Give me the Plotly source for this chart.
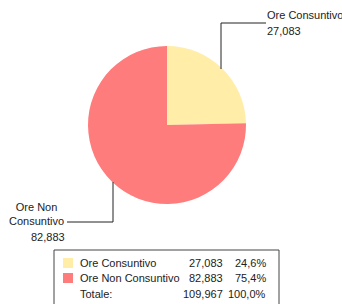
import plotly.graph_objects as go

W, H = 342, 304
labels = ["Ore Consuntivo", "Ore Non Consuntivo"]
values = [27.0834, 82.8834]
colors = ["#FFEDA8", "#FF7C7C"]
title_text = "Analisi a % di incidenza ore Consuntivo - Non Consuntivo"


def px(x):
    return x / W


def py(y):
    return 1 - y / H


def fmt(v, d):
    s = f"{v:,.{d}f}"
    return s.replace(",", "X").replace(".", ",").replace("X", ".")


total = sum(values)
FONT = "Liberation Sans, Arial, sans-serif"
TXT = "#222222"
FS = 11

cx, cy, r = 167, 125, 79
fig = go.Figure(go.Pie(
    labels=labels, values=values, sort=False, direction="clockwise", rotation=0,
    marker=dict(colors=colors, line=dict(width=0)), textinfo="none",
    hoverinfo="skip", showlegend=False,
    domain=dict(x=[px(cx - r), px(cx + r)], y=[py(cy + r), py(cy - r)]),
))

shapes = []
ann = []
# title (clipped at top)
ann.append(dict(x=px(171), y=py(5), xref="paper", yref="paper", xanchor="center",
                yanchor="bottom", showarrow=False, text="<b>" + title_text + "</b>",
                font=dict(family=FONT, size=13, color="#666666")))
# leader lines
line = dict(color="#222222", width=1)
shapes.append(dict(type="path", xref="paper", yref="paper",
                   path=f"M {px(221)},{py(69)} L {px(221)},{py(23)} L {px(266)},{py(23)}", line=line))
shapes.append(dict(type="path", xref="paper", yref="paper",
                   path=f"M {px(113)},{py(182)} L {px(113)},{py(222)} L {px(67)},{py(222)}", line=line))
# labels
ann.append(dict(x=px(265), y=py(15), xref="paper", yref="paper", xanchor="left", yanchor="middle",
                showarrow=False, text=labels[0], font=dict(family=FONT, size=FS, color=TXT)))
ann.append(dict(x=px(265), y=py(31), xref="paper", yref="paper", xanchor="left", yanchor="middle",
                showarrow=False, text=fmt(values[0], 3), font=dict(family=FONT, size=FS, color=TXT)))
ann.append(dict(x=px(66), y=py(214), xref="paper", yref="paper", xanchor="right", yanchor="middle",
                showarrow=False, text="Ore Non<br>Consuntivo", align="center",
                font=dict(family=FONT, size=FS, color=TXT)))
ann.append(dict(x=px(67), y=py(237), xref="paper", yref="paper", xanchor="right", yanchor="middle",
                showarrow=False, text=fmt(values[1], 3), font=dict(family=FONT, size=FS, color=TXT)))

# legend box
shapes.append(dict(type="rect", xref="paper", yref="paper", x0=px(54), x1=px(279), y0=py(250), y1=py(312),
                   line=dict(color="#444444", width=1), fillcolor="white"))
rows = [263, 278, 294]
for i, (lab, v, c) in enumerate(zip(labels, values, colors)):
    yy = rows[i]
    shapes.append(dict(type="rect", xref="paper", yref="paper", x0=px(63), x1=px(73),
                       y0=py(yy + 5), y1=py(yy - 5), line=dict(width=0), fillcolor=c))
    ann.append(dict(x=px(78), y=py(yy), xref="paper", yref="paper", xanchor="left", yanchor="middle",
                    showarrow=False, text=lab, font=dict(family=FONT, size=FS, color=TXT)))
    ann.append(dict(x=px(225), y=py(yy), xref="paper", yref="paper", xanchor="right", yanchor="middle",
                    showarrow=False, text=fmt(v, 3), font=dict(family=FONT, size=FS, color=TXT)))
    ann.append(dict(x=px(268), y=py(yy), xref="paper", yref="paper", xanchor="right", yanchor="middle",
                    showarrow=False, text=fmt(100 * v / total, 1) + "%", font=dict(family=FONT, size=FS, color=TXT)))
yy = rows[2]
ann.append(dict(x=px(78), y=py(yy), xref="paper", yref="paper", xanchor="left", yanchor="middle",
                showarrow=False, text="Totale:", font=dict(family=FONT, size=FS, color=TXT)))
ann.append(dict(x=px(225), y=py(yy), xref="paper", yref="paper", xanchor="right", yanchor="middle",
                showarrow=False, text=fmt(total, 3), font=dict(family=FONT, size=FS, color=TXT)))
ann.append(dict(x=px(268), y=py(yy), xref="paper", yref="paper", xanchor="right", yanchor="middle",
                showarrow=False, text=fmt(100.0, 1) + "%", font=dict(family=FONT, size=FS, color=TXT)))

fig.update_layout(width=W, height=H, margin=dict(l=0, r=0, t=0, b=0),
                  paper_bgcolor="white", plot_bgcolor="white",
                  shapes=shapes, annotations=ann)
fig.write_html("out.html", config=dict(displayModeBar=False),
               post_script="document.body.style.margin='0';document.body.style.overflow='hidden';")
